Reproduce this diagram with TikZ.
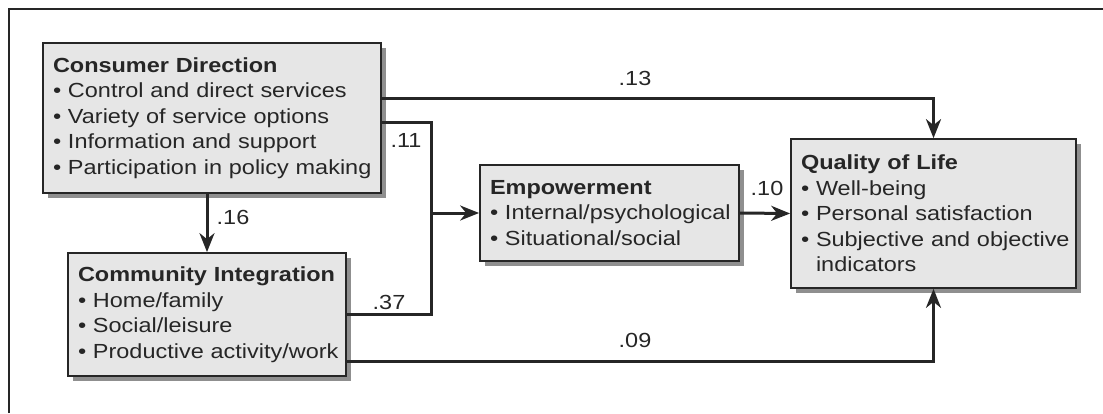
\documentclass[tikz,border=0pt]{standalone}
\usepackage{fontspec}
\setmainfont{Liberation Sans}[FakeStretch=1.15]
\usetikzlibrary{arrows.meta,shadows}
\definecolor{boxgray}{HTML}{E6E6E6}
\definecolor{shadowgray}{HTML}{8F8F8F}
\definecolor{inkgray}{HTML}{262626}
\newcommand{\itm}[1]{\mbox{\textbullet\ #1}}
\tikzset{
  factor/.style={draw=inkgray, line width=1.7pt, fill=boxgray, text=inkgray,
    align=left, inner xsep=10pt, font=\fontsize{20.4}{25.5}\selectfont,
    general shadow={fill=shadowgray, shadow xshift=5pt, shadow yshift=-5pt}},
  link/.style={draw=inkgray, line width=3pt},
  linkarrow/.style={link, -{Stealth[length=19pt,width=15pt,inset=6pt]}},
  coef/.style={text=inkgray, inner sep=0pt, font=\fontsize{20.4}{24}\selectfont}
}
\begin{document}
\begin{tikzpicture}[x=1pt,y=-1pt]
\useasboundingbox (0,0) rectangle (1103,413);
\draw[draw=inkgray, line width=1.5pt] (9,413) -- (9,9) -- (1103,9);

\node[factor, text width=318pt, minimum height=150pt] (cd) at (212,118)
  {\textbf{Consumer Direction}\\ \itm{Control and direct services}\\
   \itm{Variety of service options}\\ \itm{Information and support}\\
   \itm{Participation in policy making}};
\node[factor, text width=258pt, minimum height=123pt] (ci) at (207,314.5)
  {\textbf{Community Integration}\\ \itm{Home/family}\\
   \itm{Social/leisure}\\ \itm{Productive activity/work}};
\node[factor, text width=239pt, minimum height=96pt] (em) at (609.5,213)
  {\textbf{Empowerment}\\ \itm{Internal/psychological}\\
   \itm{Situational/social}};
\node[factor, text width=265pt, minimum height=149pt] (ql) at (933.5,213.5)
  {\textbf{Quality of Life}\\ \itm{Well-being}\\
   \itm{Personal satisfaction}\\ \itm{Subjective and objective}\\
   \mbox{\phantom{\textbullet\ }indicators}};

\coordinate (jn) at ([xshift=-48pt]em.west);

\draw[linkarrow] ([yshift=20pt]cd.east) -| (ql.north);
\draw[link] ([yshift=-4pt]cd.east) -| (jn);
\draw[link] (ci.east) -| (jn);
\draw[linkarrow] (jn) -- (em.west);
\draw[linkarrow] (cd.south -| ci.north) -- (ci.north);
\draw[linkarrow] (em.east) -- (ql.west);
\draw[linkarrow] ([yshift=-47pt]ci.east) -| (ql.south);

\node[coef] (c13) at (635,78) {.13};
\node[coef] (c11) at (406,140) {.11};
\node[coef] (c16) at (233,217) {.16};
\node[coef] (c37) at (389,302) {.37};
\node[coef] (c10) at (767,188) {.10};
\node[coef] (c09) at (635,340) {.09};
\end{tikzpicture}
\end{document}
